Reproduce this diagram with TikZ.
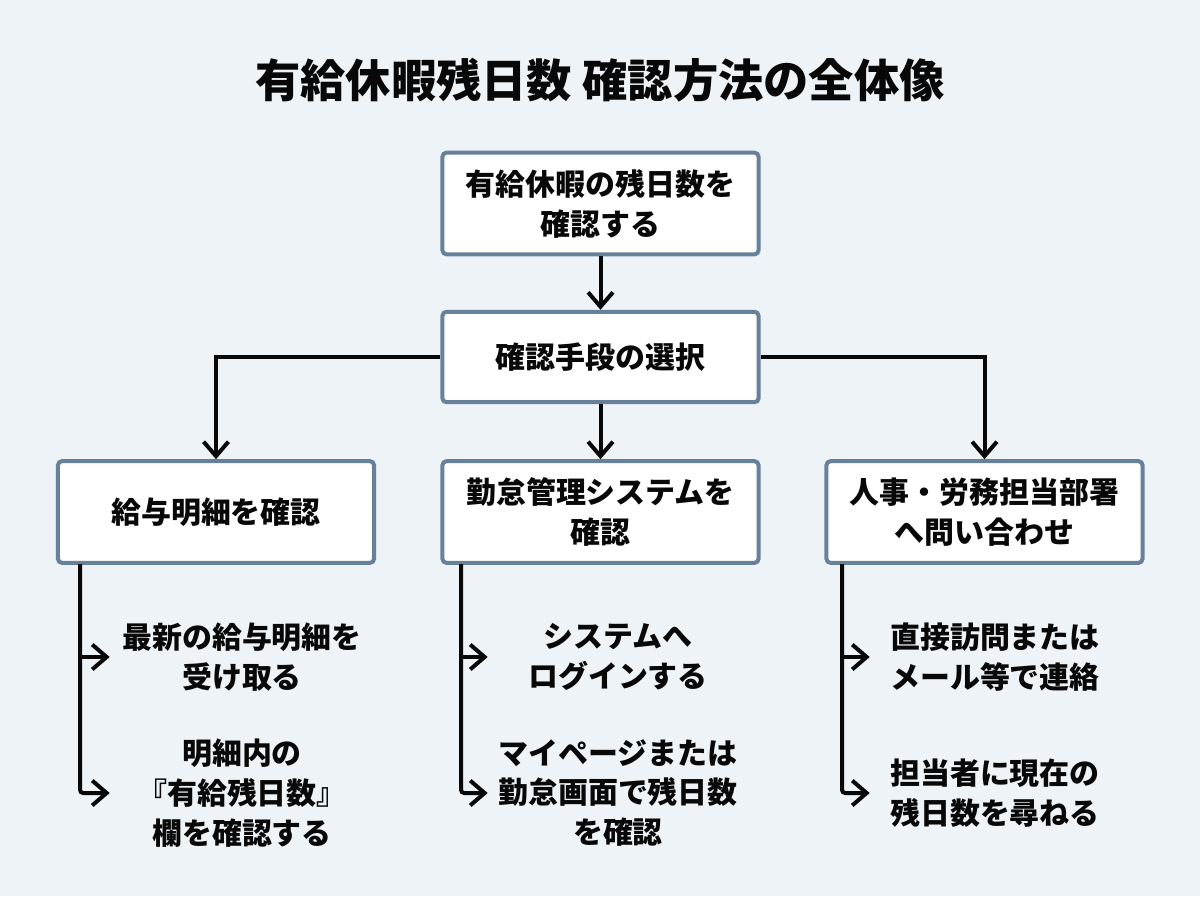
\documentclass[tikz,border=0pt]{standalone}
\usepackage{fontspec}
\setmainfont{Noto Sans CJK JP}
\usetikzlibrary{arrows.meta}
\definecolor{bgcol}{HTML}{EEF3F8}
\definecolor{edgecol}{HTML}{67819B}
\definecolor{inkcol}{HTML}{080808}
\begin{document}
\begin{tikzpicture}[
  x=0.025cm, y=-0.025cm,
  % GLOBAL CFG
  font=\bfseries\fontsize{21.3}{28.4}\selectfont,
  text=inkcol,
  % Styles
  step box/.style={% For the main boxes
      rectangle,
      rounded corners=.1cm,
      draw=edgecol,
      fill=white,
      line width=.1cm,
      align=center,
      inner sep=0pt,
      minimum width=7.9cm,
      },
  leaf/.style={% For the plain text items
      rectangle,
      align=center,
      inner sep=0pt,
      minimum width=6.6cm,
      },
  title/.style={% For the heading
      font=\bfseries\fontsize{32.2}{38}\selectfont,
      },
  ArrowC1/.style={% Arrows with square corners
      inkcol,
      line width=.1cm,
      -{Straight Barb[length=.36cm,width=.62cm,line width=.1cm]},
      },
  ArrowC2/.style={% Arrows with slightly rounded corner
      ArrowC1,
      rounded corners=.08cm,
      },
  ]

  % Background
  \fill [bgcol] (0,0) rectangle (1200,896);

  % Heading
  \node [title] (heading) at (600,80) {有給休暇残日数 確認方法の全体像};

  % Draw the boxes:
  \node [step box, minimum height=2.54cm] (goal) at (600.5,203.5) {有給休暇の残日数を\\確認する};
  \node [step box, minimum height=2.26cm] (choice) at (600.5,357) {確認手段の選択};
  \node [step box, minimum height=2.54cm] (payslip) at (216,512) {給与明細を確認};
  \node [step box, minimum height=2.54cm] (system) at (600.5,512) {勤怠管理システムを\\確認};
  \node [step box, minimum height=2.54cm] (office) at (984.5,512) {人事・労務担当部署\\へ問い合わせ};

  % Items under the boxes
  \node [leaf] (payslipA) at (242,657) {最新の給与明細を\\受け取る};
  \node [leaf] (payslipB) at (242,793) {明細内の\\『有給残日数』\\欄を確認する};
  \node [leaf, minimum width=6.5cm] (systemA) at (618,657) {システムへ\\ログインする};
  \node [leaf, minimum width=6.5cm] (systemB) at (618,793) {マイページまたは\\勤怠画面で残日数\\を確認};
  \node [leaf, minimum width=6.25cm] (officeA) at (995,657) {直接訪問または\\メール等で連絡};
  \node [leaf, minimum width=6.25cm] (officeB) at (995,793) {担当者に現在の\\残日数を尋ねる};

  % Joints where the spines leave the boxes
  \coordinate (payslipJ) at (80,564);
  \coordinate (systemJ) at (461,564);
  \coordinate (officeJ) at (842,564);

  \draw [ArrowC1] (goal) -- (choice);
  \draw [ArrowC1] (choice) -- (system);
  \draw [ArrowC1] (choice) -| (payslip);
  \draw [ArrowC1] (choice) -| (office);

  \draw [ArrowC1] (payslipJ |- payslipA) -- (payslipA);
  \draw [ArrowC2] (payslipJ) |- (payslipB);
  \draw [ArrowC1] (systemJ |- systemA) -- (systemA);
  \draw [ArrowC2] (systemJ) |- (systemB);
  \draw [ArrowC1] (officeJ |- officeA) -- (officeA);
  \draw [ArrowC2] (officeJ) |- (officeB);

\end{tikzpicture}
\end{document}
